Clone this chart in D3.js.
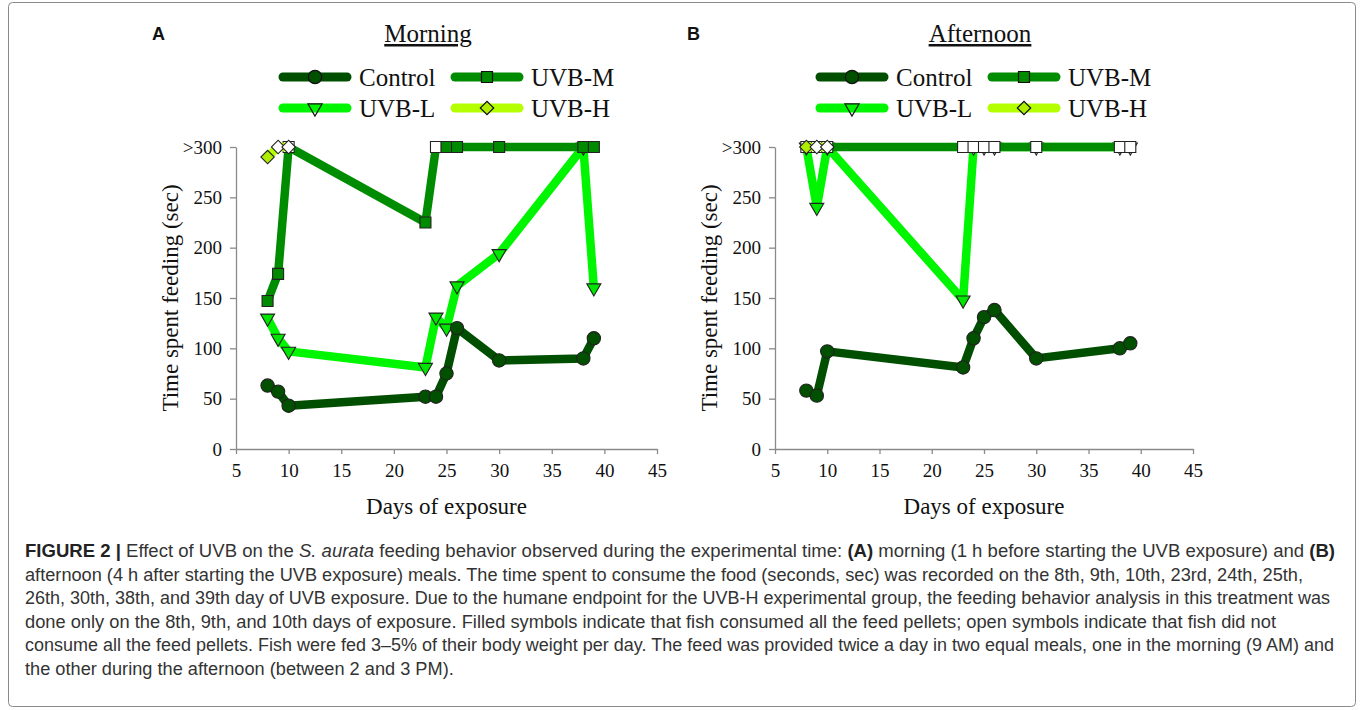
<!DOCTYPE html>
<meta charset="utf-8">
<style>
body { margin: 0; background: #fff; }
svg { display: block; }
.axis path, .axis line { stroke: #8a8a8a; stroke-width: 1.3px; }
.axis text { font-family: "Liberation Serif", serif; font-size: 19px; fill: #111; }
.serif { font-family: "Liberation Serif", serif; fill: #111; }
.caption { font-family: "Liberation Sans", Arial, sans-serif; font-size: 17.5px; fill: #333; }
</style>
<body>
<svg id="fig" width="1360" height="710"></svg>
<script src="https://d3js.org/d3.v7.min.js"></script>
<script>

// sampling days
var days = [8, 9, 10, 23, 24, 25, 26, 30, 38, 39];
var daysH = [8, 9, 10];

// morning (A), seconds; 300 means >300
var amControl = [63, 57, 43, 52, 52, 75, 120, 88, 90, 110];
var amUvbL    = [130, 110, 97, 81, 131, 120, 162, 194, 300, 160];
var amUvbM    = [147, 174, 300, 225, 300, 300, 300, 300, 300, 300];
var amUvbH    = [290, 300, 300];
// 1 = all pellets eaten (filled symbol), 0 = not (open symbol)
var amControlAte = [1, 1, 1, 1, 1, 1, 1, 1, 1, 1];
var amUvbLAte    = [1, 1, 1, 1, 1, 1, 1, 1, 1, 1];
var amUvbMAte    = [1, 1, 0, 1, 0, 1, 1, 1, 1, 1];
var amUvbHAte    = [1, 0, 0];

// afternoon (B)
var pmControl = [58, 53, 97, 81, 110, 131, 138, 90, 100, 105];
var pmUvbL    = [300, 240, 300, 148, 300, 300, 300, 300, 300, 300];
var pmUvbM    = [300, 300, 300, 300, 300, 300, 300, 300, 300, 300];
var pmUvbH    = [300, 300, 300];
var pmControlAte = [1, 1, 1, 1, 1, 1, 1, 1, 1, 1];
var pmUvbLAte    = [1, 1, 1, 1, 0, 0, 0, 0, 0, 0];
var pmUvbMAte    = [0, 0, 0, 0, 0, 0, 0, 0, 0, 0];
var pmUvbHAte    = [1, 0, 0];

var xTicks = [5, 10, 15, 20, 25, 30, 35, 40, 45];
var yTicks = [0, 50, 100, 150, 200, 250, 300];
var groupNames = ["Control", "UVB-M", "UVB-L", "UVB-H"];

var captionLines = [
  [["b", "FIGURE 2 | "], ["n", "Effect of UVB on the "], ["i", "S. aurata"], ["n", " feeding behavior observed during the experimental time: "], ["b", "(A)"], ["n", " morning (1 h before starting the UVB exposure) and "], ["b", "(B)"]],
  [["n", "afternoon (4 h after starting the UVB exposure) meals. The time spent to consume the food (seconds, sec) was recorded on the 8th, 9th, 10th, 23rd, 24th, 25th,"]],
  [["n", "26th, 30th, 38th, and 39th day of UVB exposure. Due to the humane endpoint for the UVB-H experimental group, the feeding behavior analysis in this treatment was"]],
  [["n", "done only on the 8th, 9th, and 10th days of exposure. Filled symbols indicate that fish consumed all the feed pellets; open symbols indicate that fish did not"]],
  [["n", "consume all the feed pellets. Fish were fed 3\u20135% of their body weight per day. The feed was provided twice a day in two equal meals, one in the morning (9 AM) and"]],
  [["n", "the other during the afternoon (between 2 and 3 PM)."]]
];

var style = {
  "Control": {line: "#004f00", fill: "#005000", sym: d3.symbolCircle, size: 140, rot: 0},
  "UVB-M":   {line: "#008c00", fill: "#008a00", sym: d3.symbolSquare, size: 121, rot: 0},
  "UVB-L":   {line: "#00f500", fill: "#00e600", sym: d3.symbolTriangle, size: 85, rot: 180},
  "UVB-H":   {line: "#b4ff00", fill: "#b0ee00", sym: d3.symbolSquare, size: 90, rot: 45}
};

var svg = d3.select("#fig");

svg.append("rect")
   .attr("x", 8.5).attr("y", 2.5)
   .attr("width", 1347).attr("height", 704)
   .attr("rx", 4)
   .attr("fill", "none")
   .attr("stroke", "#8a8a8a");

function drawPanel(opt) {
  var x = d3.scaleLinear().domain([5, 45]).range([opt.x0, opt.x1]);
  var y = d3.scaleLinear().domain([0, 300]).range([449, 147]);
  var g = svg.append("g");

  g.append("g").attr("class", "axis")
   .attr("transform", "translate(0,449)")
   .call(d3.axisBottom(x).tickValues(xTicks).tickSize(5).tickSizeOuter(0).tickPadding(9))
   .selectAll("text").attr("dy", "0.75em");

  g.append("g").attr("class", "axis")
   .attr("transform", "translate(" + opt.x0 + ",0)")
   .call(d3.axisLeft(y).tickValues(yTicks).tickSize(6).tickSizeOuter(0).tickPadding(8)
           .tickFormat(function(d) { return d === 300 ? ">300" : d; }));

  // axis titles
  g.append("text").attr("class", "serif")
   .attr("x", (opt.x0 + opt.x1) / 2).attr("y", 514)
   .attr("text-anchor", "middle").attr("font-size", 23)
   .text("Days of exposure");
  g.append("text").attr("class", "serif")
   .attr("transform", "translate(" + (opt.x0 - 58) + ",298) rotate(-90)")
   .attr("text-anchor", "middle").attr("font-size", 23)
   .text("Time spent feeding (sec)");

  // title + panel letter
  g.append("text").attr("class", "serif")
   .attr("x", opt.titleX).attr("y", 42)
   .attr("text-anchor", "middle").attr("font-size", 25)
   .attr("text-decoration", "underline")
   .text(opt.title);
  g.append("text")
   .attr("x", opt.letterX).attr("y", 40)
   .attr("font-family", "Liberation Sans, Arial, sans-serif")
   .attr("font-weight", "bold").attr("font-size", 18).attr("fill", "#111")
   .text(opt.letter);

  // legend
  var legPos = {
    "Control": [opt.legX, 77], "UVB-M": [opt.legX + 172, 77],
    "UVB-L": [opt.legX, 108], "UVB-H": [opt.legX + 172, 108]
  };
  groupNames.forEach(function(name) {
    var s = style[name], p = legPos[name];
    g.append("line")
     .attr("x1", p[0]).attr("x2", p[0] + 64).attr("y1", p[1]).attr("y2", p[1])
     .attr("stroke", s.line).attr("stroke-width", 9).attr("stroke-linecap", "round");
    g.append("path")
     .attr("d", d3.symbol(s.sym, s.size))
     .attr("transform", "translate(" + (p[0] + 32) + "," + p[1] + ") rotate(" + s.rot + ")")
     .attr("fill", name === "UVB-L" ? "none" : s.fill)
     .attr("stroke", "#111").attr("stroke-width", 1.2);
    g.append("text").attr("class", "serif")
     .attr("x", p[0] + 76).attr("y", p[1] + 8.5)
     .attr("font-size", 25)
     .text(name);
  });

  var line = d3.line()
               .x(function(d) { return x(d.day); })
               .y(function(d) { return y(d.v); });

  opt.series.forEach(function(sr) {
    var s = style[sr.name];
    var pts = sr.days.map(function(d, i) { return {day: d, v: sr.vals[i], ate: sr.ate[i]}; });
    g.append("path").datum(pts)
     .attr("d", line)
     .attr("fill", "none")
     .attr("stroke", s.line).attr("stroke-width", 8.5)
     .attr("stroke-linejoin", "round").attr("stroke-linecap", "round");
    g.selectAll(null).data(pts).enter().append("path")
     .attr("d", d3.symbol(s.sym, s.size))
     .attr("transform", function(d) {
       return "translate(" + x(d.day) + "," + y(d.v) + ") rotate(" + s.rot + ")";
     })
     .attr("fill", function(d) { return d.ate ? s.fill : "#fff"; })
     .attr("stroke", "#222").attr("stroke-width", 1.1);
  });
}

drawPanel({
  x0: 236, x1: 657, title: "Morning", letter: "A",
  titleX: 428, letterX: 152, legX: 283,
  series: [
    {name: "UVB-L", days: days, vals: amUvbL, ate: amUvbLAte},
    {name: "Control", days: days, vals: amControl, ate: amControlAte},
    {name: "UVB-M", days: days, vals: amUvbM, ate: amUvbMAte},
    {name: "UVB-H", days: daysH, vals: amUvbH, ate: amUvbHAte}
  ]
});

drawPanel({
  x0: 775, x1: 1193, title: "Afternoon", letter: "B",
  titleX: 980, letterX: 687, legX: 820,
  series: [
    {name: "UVB-L", days: days, vals: pmUvbL, ate: pmUvbLAte},
    {name: "Control", days: days, vals: pmControl, ate: pmControlAte},
    {name: "UVB-M", days: days, vals: pmUvbM, ate: pmUvbMAte},
    {name: "UVB-H", days: daysH, vals: pmUvbH, ate: pmUvbHAte}
  ]
});

// caption, one text per line; each wrapped line is fitted to where it ends in the figure
var capRight = [1335, 1303, 1330, 1276, 1334, null];
var capG = svg.append("g").attr("transform", "translate(25,0)");
var widest = 0, texts = [];
captionLines.forEach(function(parts, i) {
  var t = capG.append("text").attr("class", "caption")
              .attr("x", 0).attr("y", 557 + i * 23.5);
  parts.forEach(function(p) {
    var s = t.append("tspan").text(p[1]);
    if (p[0] === "b") s.attr("font-weight", "bold").attr("fill", "#222");
    if (p[0] === "i") s.attr("font-style", "italic");
  });
  texts.push(t);
});
// average stretch from the full lines, applied to the short last line too
var ratio = d3.mean(texts.slice(0, 5), function(t, i) {
  return (capRight[i] - 25) / t.node().getComputedTextLength();
});
texts.forEach(function(t, i) {
  var w = capRight[i] ? capRight[i] - 25 : t.node().getComputedTextLength() * ratio;
  t.attr("textLength", w).attr("lengthAdjust", "spacingAndGlyphs");
});

</script>
</body>
